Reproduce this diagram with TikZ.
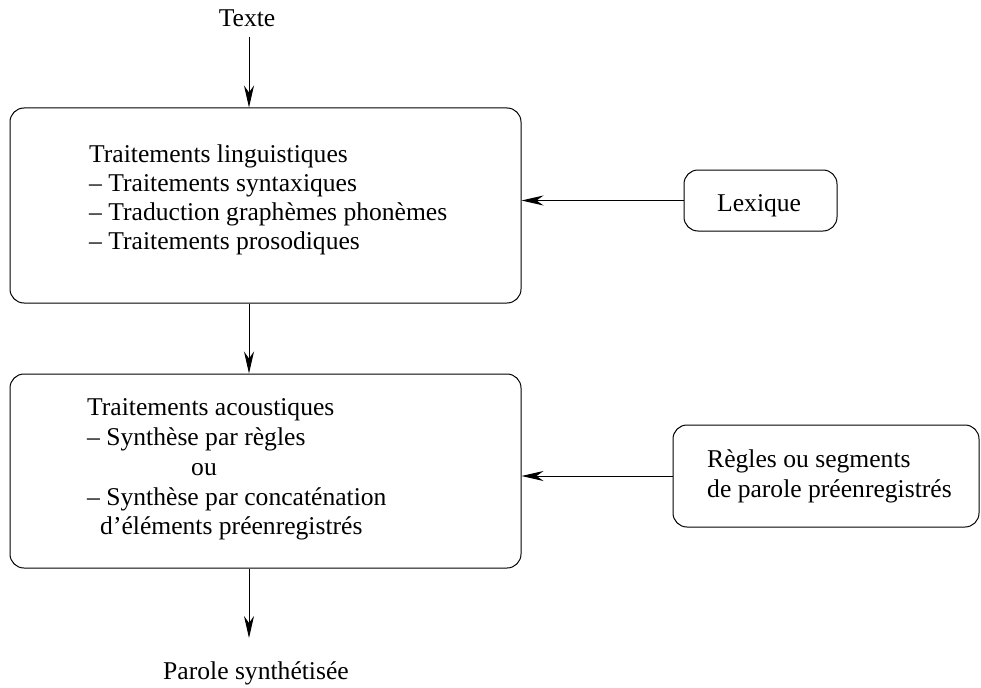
\documentclass[tikz,border=0pt]{standalone}
\usepackage{fontspec}
\setmainfont{Liberation Serif}
\usetikzlibrary{arrows.meta}
\begin{document}
\begin{tikzpicture}[x=1pt,y=-1pt,
  box/.style={draw=black, line width=1pt, rounded corners=14pt, inner sep=0pt},
  txt/.style={anchor=base west, inner sep=0pt, font=\fontsize{25.6}{30}\selectfont},
  ctxt/.style={anchor=base, inner sep=0pt, font=\fontsize{25.6}{30}\selectfont},
  arr/.style={line width=1pt, -{Stealth[length=22pt,width=10pt,inset=7pt]}}]
\useasboundingbox (0,0) rectangle (981,687);
% boxes
\node[box, minimum width=511pt, minimum height=195pt] (ling) at (265.5,205.5) {};
\node[box, minimum width=511pt, minimum height=194pt] (acou) at (265.5,471) {};
\node[box, minimum width=153pt, minimum height=61pt] (lex) at (760.5,200.5) {};
\node[box, minimum width=306pt, minimum height=102pt] (regl) at (826,476) {};
% texts
\node[ctxt] (texte) at (247,27) {Texte};
\node[ctxt] (parole) at (256,679) {Parole synthétisée};
\node[txt] (l1) at (89,162) {Traitements linguistiques};
\node[txt] (l2) at (89,191) {– Traitements syntaxiques};
\node[txt] (l3) at (89,220) {– Traduction graphèmes phonèmes};
\node[txt] (l4) at (89,249) {– Traitements prosodiques};
\node[txt] (a1) at (87,415) {Traitements acoustiques};
\node[txt] (a2) at (87,445) {– Synthèse par règles};
\node[txt] (a3) at (191,475) {ou};
\node[txt] (a4) at (87,505) {– Synthèse par concaténation};
\node[txt] (a5) at (100,534) {d’éléments préenregistrés};
\node[txt] (lt) at (717,211) {Lexique};
\node[txt] (r1) at (707,467) {Règles ou segments};
\node[txt] (r2) at (707,497) {de parole préenregistrés};
% connectors
\coordinate (top) at (249,37);
\coordinate (bot) at (249,638);
\draw[arr] (top) -- (top |- ling.north);
\draw[arr] (top |- ling.south) -- (top |- acou.north);
\draw[arr] (top |- acou.south) -- (bot);
\draw[arr] (lex.west) -- (lex.west -| ling.east);
\draw[arr] (regl.west) -- (regl.west -| acou.east);
\end{tikzpicture}
\end{document}
